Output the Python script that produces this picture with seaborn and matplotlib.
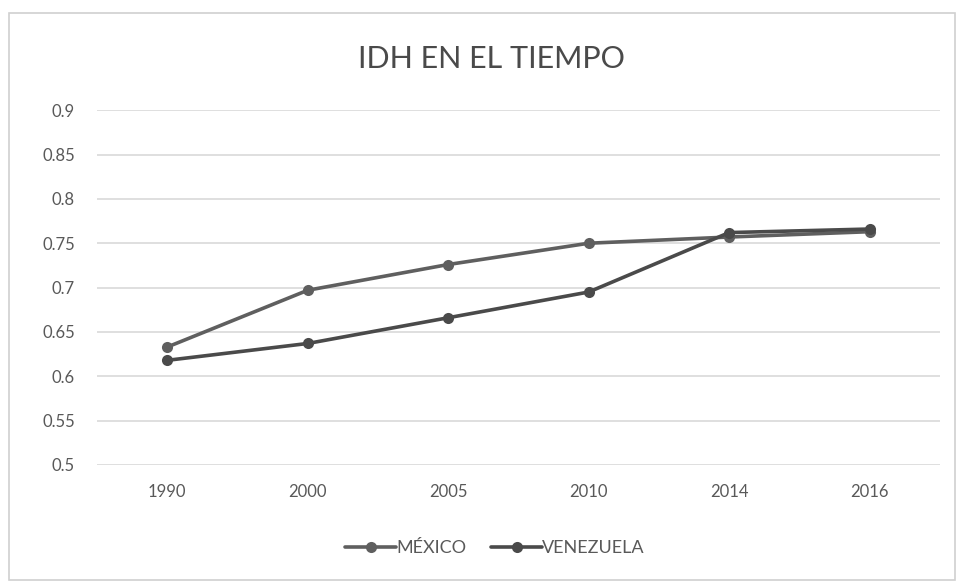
import matplotlib
matplotlib.use("Agg")
import matplotlib.pyplot as plt
import seaborn as sns
import pandas as pd
from matplotlib.patches import Rectangle

years = ["1990", "2000", "2005", "2010", "2014", "2016"]
mexico = [0.633, 0.697, 0.726, 0.750, 0.757, 0.763]
venezuela = [0.618, 0.637, 0.666, 0.695, 0.762, 0.766]
yticks = [0.5, 0.55, 0.6, 0.65, 0.7, 0.75, 0.8, 0.85, 0.9]
ytick_labels = ["0.5", "0.55", "0.6", "0.65", "0.7", "0.75", "0.8", "0.85", "0.9"]

df = pd.DataFrame({
    "year": years * 2,
    "idh": mexico + venezuela,
    "pais": ["MÉXICO"] * len(years) + ["VENEZUELA"] * len(years),
})

sns.set_theme(style="white")
plt.rcParams["font.family"] = ["Lato", "DejaVu Sans"]

fig = plt.figure(figsize=(9.61, 5.86), dpi=100)
ax = fig.add_axes([0.101, 0.2065, 0.877, 0.6055])

palette = {"MÉXICO": "#5f5f5f", "VENEZUELA": "#4a4a4a"}
sns.lineplot(data=df, x="year", y="idh", hue="pais", palette=palette,
             marker="o", markersize=8, linewidth=2.6, markeredgewidth=0,
             sort=False, ax=ax)

ax.set_xlim(-0.5, len(years) - 0.5)
ax.set_ylim(0.5, 0.9)
ax.set_yticks(yticks)
ax.set_yticklabels(ytick_labels)
ax.yaxis.grid(True, color="#d9d9d9", linewidth=1.2)
ax.set_axisbelow(True)
for s in ax.spines.values():
    s.set_visible(False)
ax.tick_params(axis="both", length=0, labelsize=12, labelcolor="#595959")
ax.tick_params(axis="y", pad=16)
ax.tick_params(axis="x", pad=14)
ax.set_xlabel("")
ax.set_ylabel("")
fig.text(0.511, 0.90, "IDH EN EL TIEMPO", fontsize=22, fontweight="normal",
         color="#4a4a4a", ha="center", va="center")

leg = ax.legend(loc="center", bbox_to_anchor=(0.515, 0.065),
                bbox_transform=fig.transFigure, ncol=2,
                frameon=False, fontsize=13, handlelength=2.8,
                columnspacing=1.4, handletextpad=0.0)
for t in leg.get_texts():
    t.set_color("#595959")

fig.patches.append(Rectangle((0.009, 0.01), 0.985, 0.968, transform=fig.transFigure,
                             fill=False, edgecolor="#d0d0d0", linewidth=1.2))

fig.savefig("out.png", dpi=100)
